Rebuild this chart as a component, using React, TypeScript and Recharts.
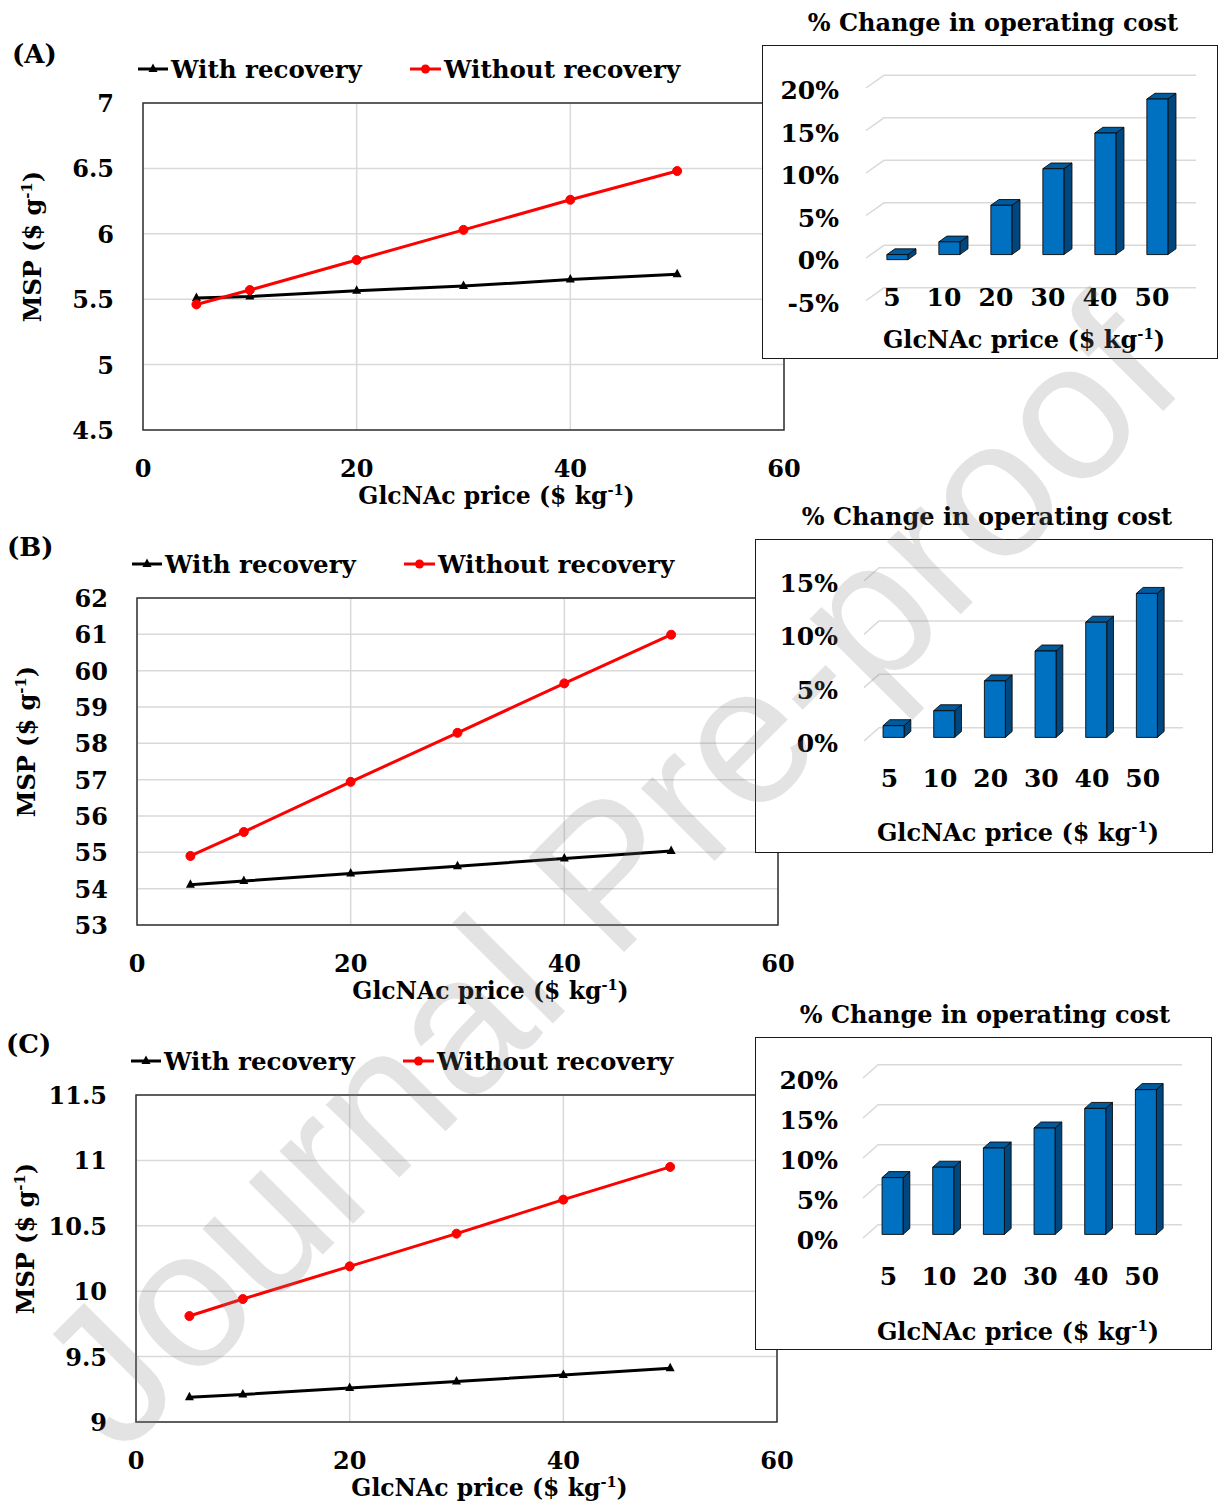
import React from 'react';
import {
  LineChart,
  Line,
  XAxis,
  YAxis,
  CartesianGrid,
  Legend,
  ReferenceArea,
  BarChart,
  Bar,
} from 'recharts';

const FONT = "'DejaVu Serif', serif";

// GlcNAc price ($/kg)
const prices = [5, 10, 20, 30, 40, 50];

// (A) MSP ($/g)
const mspWithA = [5.51, 5.52, 5.565, 5.6, 5.65, 5.69];
const mspWithoutA = [5.46, 5.57, 5.8, 6.03, 6.26, 6.48];
const yTicksA = [4.5, 5, 5.5, 6, 6.5, 7];

// (B) MSP ($/g)
const mspWithB = [54.11, 54.21, 54.42, 54.62, 54.83, 55.04];
const mspWithoutB = [54.9, 55.56, 56.94, 58.29, 59.65, 60.99];
const yTicksB = [53, 54, 55, 56, 57, 58, 59, 60, 61, 62];

// (C) MSP ($/g)
const mspWithC = [9.19, 9.21, 9.26, 9.31, 9.36, 9.41];
const mspWithoutC = [9.81, 9.94, 10.19, 10.44, 10.7, 10.95];
const yTicksC = [9, 9.5, 10, 10.5, 11, 11.5];

// % change in operating cost
const opCostA = [-0.6, 1.5, 5.8, 10.1, 14.3, 18.3];
const opCostB = [1.1, 2.5, 5.3, 8.1, 10.8, 13.5];
const opCostC = [7.1, 8.4, 10.8, 13.3, 15.75, 18.1];
const costTicksA = [-5, 0, 5, 10, 15, 20];
const costTicksB = [0, 5, 10, 15];
const costTicksC = [0, 5, 10, 15, 20];

const xTicks = [0, 20, 40, 60];

function TriangleDot(props: any) {
  const { cx, cy } = props;
  if (cx == null || cy == null) return null;
  return (
    <polygon
      points={`${cx},${cy - 5.5} ${cx + 4.5},${cy + 3} ${cx - 4.5},${cy + 3}`}
      fill="#000"
    />
  );
}

// text with a "-1" superscript before the closing bracket
function UnitText({ x, y, pre, size, transform }: any) {
  return (
    <text
      x={x}
      y={y}
      textAnchor="middle"
      fontFamily={FONT}
      fontWeight="bold"
      fontSize={size}
      fill="#000"
      transform={transform}
    >
      {pre}
      <tspan fontSize={size * 0.62} dy={-size * 0.38}>
        -1
      </tspan>
      <tspan dy={size * 0.38}>)</tspan>
    </text>
  );
}

const renderLegend = () => (
  <svg width={560} height={32} style={{ overflow: 'visible', display: 'block' }}>
    <line x1={0} y1={16} x2={30} y2={16} stroke="#000" strokeWidth={3} />
    <TriangleDot cx={15} cy={16} />
    <text x={33} y={25} fontFamily={FONT} fontWeight="bold" fontSize={24.5} fill="#000">
      With recovery
    </text>
    <line x1={272} y1={16} x2={303} y2={16} stroke="#ff0000" strokeWidth={3} />
    <circle cx={287.5} cy={16} r={4.5} fill="#ff0000" />
    <text x={306} y={25} fontFamily={FONT} fontWeight="bold" fontSize={24.5} fill="#000">
      Without recovery
    </text>
  </svg>
);

interface MspPanelProps {
  left: number;
  top: number;
  withRec: number[];
  withoutRec: number[];
  yTicks: number[];
}

function MspPanel({ left, top, withRec, withoutRec, yTicks }: MspPanelProps) {
  const data = prices.map((p, i) => ({ price: p, withRec: withRec[i], withoutRec: withoutRec[i] }));
  const yMin = yTicks[0];
  const yMax = yTicks[yTicks.length - 1];

  return (
    <div style={{ position: 'absolute', left, top, width: 800, height: 520 }}>
      <LineChart width={800} height={520} data={data} margin={{ top: 103, right: 16, bottom: 0, left: 0 }}>
        <CartesianGrid stroke="#d9d9d9" strokeWidth={1.5} />
        <XAxis
          dataKey="price"
          type="number"
          domain={[0, 60]}
          ticks={xTicks}
          height={90}
          axisLine={false}
          tickLine={false}
          tickSize={0}
          tickMargin={0}
          tick={(p: any) => (
            <text
              key={p.index}
              x={p.x}
              y={p.y + 47}
              textAnchor="middle"
              fontFamily={FONT}
              fontWeight="bold"
              fontSize={24}
              fill="#000"
            >
              {p.payload.value}
            </text>
          )}
          label={(p: any) => {
            const vb = p.viewBox || { x: 143, y: 430, width: 641 };
            return <UnitText x={vb.x + vb.width / 2 + 33} y={vb.y + 74} pre="GlcNAc price ($ kg" size={23.5} />;
          }}
        />
        <YAxis
          type="number"
          domain={[yMin, yMax]}
          ticks={yTicks}
          width={143}
          axisLine={false}
          tickLine={false}
          tickSize={0}
          tickMargin={0}
          tick={(p: any) => (
            <text
              key={p.index}
              x={114}
              y={p.y + 9}
              textAnchor="end"
              fontFamily={FONT}
              fontWeight="bold"
              fontSize={24}
              fill="#000"
            >
              {p.payload.value}
            </text>
          )}
          label={(p: any) => {
            const vb = p.viewBox || { x: 0, y: 103, height: 327 };
            const cx = vb.x + 33;
            const cy = vb.y + vb.height / 2 - 20;
            return <UnitText x={cx} y={cy + 8} pre="MSP ($ g" size={24} transform={`rotate(-90 ${cx} ${cy})`} />;
          }}
        />
        <ReferenceArea x1={0} x2={60} y1={yMin} y2={yMax} fill="none" fillOpacity={0} stroke="#333" strokeWidth={1.5} />
        <Line
          dataKey="withRec"
          stroke="#000"
          strokeWidth={3}
          dot={<TriangleDot />}
          isAnimationActive={false}
        />
        <Line
          dataKey="withoutRec"
          stroke="#ff0000"
          strokeWidth={3}
          dot={{ r: 4.5, fill: '#ff0000', stroke: '#ff0000', strokeWidth: 1 }}
          isAnimationActive={false}
        />
        <Legend
          layout="vertical"
          align="center"
          verticalAlign="middle"
          content={renderLegend}
          wrapperStyle={{ left: 138, top: 53, width: 560, height: 32 }}
        />
      </LineChart>
    </div>
  );
}

function Bar3D(props: any) {
  const { x, y, width, height, dx, dy } = props;
  if (x == null || y == null) return null;
  const top = Math.min(y, y + height);
  const h = Math.abs(height);
  const fx = x + dx * 0.27;
  const fy = top - dy * 0.27;
  const sx = dx * 0.45;
  const sy = dy * 0.45;
  return (
    <g stroke="#0a0a0a" strokeWidth={0.9} strokeLinejoin="round">
      <polygon
        points={`${fx + width},${fy} ${fx + width + sx},${fy - sy} ${fx + width + sx},${fy + h - sy} ${fx + width},${fy + h}`}
        fill="#00477f"
      />
      <polygon
        points={`${fx},${fy} ${fx + sx},${fy - sy} ${fx + width + sx},${fy - sy} ${fx + width},${fy}`}
        fill="#005a9e"
      />
      <rect x={fx} y={fy} width={width} height={h} fill="#0070c0" />
    </g>
  );
}

interface CostInsetProps {
  left: number;
  top: number;
  w: number;
  h: number;
  values: number[];
  ticks: number[];
  plotLeft: number;
  plotRight: number;
  plotTop: number;
  plotBottom: number;
  dx: number;
  dy: number;
  labelRight: number;
  catBaseline: number;
  titleX: number;
  titleBaseline: number;
}

function CostInset(c: CostInsetProps) {
  const rows = prices.map((p, i) => ({ price: String(p), cost: c.values[i] }));
  return (
    <>
      <div
        style={{
          position: 'absolute',
          left: c.left,
          top: c.top,
          width: c.w,
          height: c.h,
          border: '1.5px solid #1a1a1a',
          boxSizing: 'border-box',
          background: '#fff',
        }}
      />
      <div style={{ position: 'absolute', left: c.left, top: c.top, width: c.w, height: c.h }}>
        <BarChart
          width={c.w}
          height={c.h}
          data={rows}
          barSize={21}
          margin={{ top: c.plotTop, right: c.w - c.plotRight, bottom: 0, left: 0 }}
        >
          <CartesianGrid
            vertical={false}
            horizontal={(p: any) => (
              <polyline
                key={p.key ?? `h-${p.index}`}
                points={`${p.x1},${p.y1} ${p.x1 + c.dx},${p.y1 - c.dy} ${p.x2 + c.dx},${p.y1 - c.dy}`}
                fill="none"
                stroke="#d9d9d9"
                strokeWidth={1.5}
              />
            )}
          />
          <XAxis
            dataKey="price"
            type="category"
            height={c.h - c.plotBottom}
            interval={0}
            axisLine={false}
            tickLine={false}
            tick={(p: any) => (
              <text
                key={p.index}
                x={p.x}
                y={c.catBaseline}
                textAnchor="middle"
                fontFamily={FONT}
                fontWeight="bold"
                fontSize={25}
                fill="#000"
              >
                {p.payload.value}
              </text>
            )}
            label={() => <UnitText x={c.titleX} y={c.titleBaseline} pre="GlcNAc price ($ kg" size={24} />}
          />
          <YAxis
            type="number"
            domain={[c.ticks[0], c.ticks[c.ticks.length - 1]]}
            ticks={c.ticks}
            width={c.plotLeft}
            axisLine={false}
            tickLine={false}
            tickSize={0}
            tickMargin={0}
            tick={(p: any) => (
              <text
                key={p.index}
                x={c.labelRight}
                y={p.y + 11}
                textAnchor="end"
                fontFamily={FONT}
                fontWeight="bold"
                fontSize={25}
                fill="#000"
              >
                {`${p.payload.value}%`}
              </text>
            )}
          />
          <Bar
            dataKey="cost"
            isAnimationActive={false}
            shape={(p: any) => <Bar3D key={p.index} {...p} dx={c.dx} dy={c.dy} />}
          />
        </BarChart>
      </div>
    </>
  );
}

const labelStyle = { fontFamily: FONT, fontWeight: 'bold' as const, fill: '#000' };

export default function App() {
  return (
    <div
      style={{
        position: 'absolute',
        left: 0,
        top: 0,
        width: 1221,
        height: 1505,
        background: '#fff',
        overflow: 'hidden',
      }}
    >
      <svg width={1221} height={1505} style={{ position: 'absolute', left: 0, top: 0 }}>
        <text x={12} y={63} fontSize={26} {...labelStyle}>(A)</text>
        <text x={7} y={556} fontSize={26} {...labelStyle}>(B)</text>
        <text x={6} y={1053} fontSize={26} {...labelStyle}>(C)</text>
        <text x={993} y={31} fontSize={24} textAnchor="middle" {...labelStyle}>% Change in operating cost</text>
        <text x={987} y={525} fontSize={24} textAnchor="middle" {...labelStyle}>% Change in operating cost</text>
        <text x={985} y={1023} fontSize={24} textAnchor="middle" {...labelStyle}>% Change in operating cost</text>
      </svg>

      <MspPanel left={0} top={0} withRec={mspWithA} withoutRec={mspWithoutA} yTicks={yTicksA} />
      <MspPanel left={-6} top={495} withRec={mspWithB} withoutRec={mspWithoutB} yTicks={yTicksB} />
      <MspPanel left={-7} top={992} withRec={mspWithC} withoutRec={mspWithoutC} yTicks={yTicksC} />

      <CostInset
        left={762}
        top={45}
        w={456}
        h={314}
        values={opCostA}
        ticks={costTicksA}
        plotLeft={104}
        plotRight={416}
        plotTop={43}
        plotBottom={255.5}
        dx={18}
        dy={12.7}
        labelRight={77}
        catBaseline={261}
        titleX={262}
        titleBaseline={303}
      />
      <CostInset
        left={755}
        top={539}
        w={458}
        h={314}
        values={opCostB}
        ticks={costTicksB}
        plotLeft={109}
        plotRight={413}
        plotTop={42}
        plotBottom={202}
        dx={15}
        dy={13.3}
        labelRight={83}
        catBaseline={248}
        titleX={263}
        titleBaseline={302}
      />
      <CostInset
        left={755}
        top={1037}
        w={457}
        h={313}
        values={opCostC}
        ticks={costTicksC}
        plotLeft={108}
        plotRight={412}
        plotTop={41}
        plotBottom={201}
        dx={15}
        dy={13.3}
        labelRight={83}
        catBaseline={248}
        titleX={263}
        titleBaseline={303}
      />

      <svg
        width={1221}
        height={1505}
        style={{ position: 'absolute', left: 0, top: 0, pointerEvents: 'none' }}
      >
        <text
          x={655}
          y={921}
          textAnchor="middle"
          fontFamily="'Liberation Sans', Arial, sans-serif"
          fontSize={196}
          fill="#808080"
          fillOpacity={0.22}
          transform="rotate(-45.1 655 921)"
        >
          Journal Pre-proof
        </text>
      </svg>
    </div>
  );
}
